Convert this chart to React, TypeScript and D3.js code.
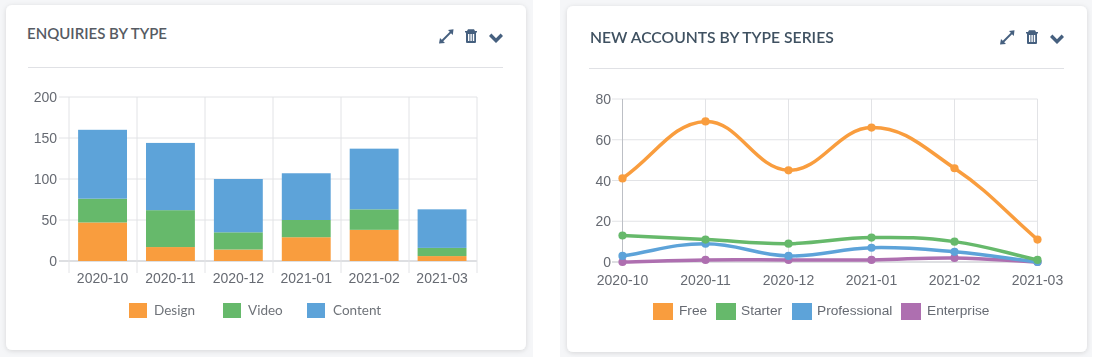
import React from "react";
import * as d3 from "d3";

const months = ["2020-10", "2020-11", "2020-12", "2021-01", "2021-02", "2021-03"];
const design = [47, 17, 14, 29, 38, 6];
const video = [29, 45, 21, 21, 25, 10];
const content = [84, 82, 65, 57, 74, 47];
const free = [41, 69, 45, 66, 46, 11];
const starter = [13, 11, 9, 12, 10, 1];
const professional = [3, 9, 3, 7, 5, 0];
const enterprise = [0, 1, 1, 1, 2, 0];
const barTicks = [0, 50, 100, 150, 200];
const lineTicks = [0, 20, 40, 60, 80];

const ORANGE = "#f99d3e";
const GREEN = "#66b96b";
const BLUE = "#5da3d9";
const PURPLE = "#ae6fb0";
const GRID = "#e2e3e6";
const AXIS = "#bcbfc5";
const TICK = "#666a72";
const ICON = "#46607f";
const SANS = "'Liberation Sans', Arial, sans-serif";

function chartJsLine(xs: number[], ys: number[]) {
  const t = 0.4;
  const p = d3.path();
  const n = xs.length;
  const ctrl = xs.map((x, i) => {
    const pi = Math.max(i - 1, 0);
    const ni = Math.min(i + 1, n - 1);
    const d01 = Math.hypot(x - xs[pi], ys[i] - ys[pi]);
    const d12 = Math.hypot(xs[ni] - x, ys[ni] - ys[i]);
    const s = d01 + d12 || 1;
    const fa = (t * d01) / s;
    const fb = (t * d12) / s;
    return {
      px: x - fa * (xs[ni] - xs[pi]),
      py: ys[i] - fa * (ys[ni] - ys[pi]),
      nx: x + fb * (xs[ni] - xs[pi]),
      ny: ys[i] + fb * (ys[ni] - ys[pi]),
    };
  });
  p.moveTo(xs[0], ys[0]);
  for (let i = 1; i < n; i++) {
    p.bezierCurveTo(ctrl[i - 1].nx, ctrl[i - 1].ny, ctrl[i].px, ctrl[i].py, xs[i], ys[i]);
  }
  return p.toString();
}

function Icons({ x, y }: { x: number; y: number }) {
  return (
    <g transform={`translate(${x},${y})`} fill={ICON} stroke="none">
      <path d="M0 13.5 L1 8 L2.8 9.8 L10.8 1.8 L9 0 L14.5 -0.8 L13.8 5 L12 3.2 L4.2 11.2 L6 13 Z" />
      <path
        fillRule="evenodd"
        transform="translate(0,-2)"
        d="M26 3 H38 V4.6 H37 V14 Q37 15 36 15 H28 Q27 15 27 14 V4.6 H26 Z M29 1.2 H35 L36 3 H28 Z M29 6 V13 H30.4 V6 Z M31.4 6 V13 H32.8 V6 Z M33.8 6 V13 H35.2 V6 Z"
      />
      <path d="M50 4 L52.4 1.6 L57 6.2 L61.6 1.6 L64 4 L57 11 Z" transform="translate(0,2)" />
    </g>
  );
}

function Card({ x, y, w, h }: { x: number; y: number; w: number; h: number }) {
  return <rect x={x} y={y} width={w} height={h} rx={6} fill="#fff" filter="url(#cardShadow)" />;
}

function BarChart() {
  const x = d3.scaleBand<string>().domain(months).range([68.6, 476]).paddingInner(0.28).paddingOuter(0.14);
  const step = 68;
  const y = d3.scaleLinear().domain([0, 200]).range([261, 97]);
  const stacked = d3.stack<number>().keys(["0", "1", "2"]).value((i, k) => [design, video, content][+k][i])(
    months.map((_, i) => i)
  );
  const colors = [ORANGE, GREEN, BLUE];
  return (
    <g>
      {barTicks.map((t) => (
        <g key={t}>
          <line x1={59} x2={477} y1={y(t)} y2={y(t)} stroke={t === 0 ? AXIS : GRID} />
          <text x={57} y={y(t) + 5} textAnchor="end" fontFamily={SANS} fontSize={14} fill={TICK}>{t}</text>
        </g>
      ))}
      {d3.range(0, months.length + 1).map((i) => (
        <line key={i} x1={69 + i * step} x2={69 + i * step} y1={97} y2={273} stroke={GRID} />
      ))}
      {stacked.map((s, k) =>
        s.map((d, i) => (
          <rect key={months[i]} x={x(months[i])} width={x.bandwidth()} y={y(d[1])} height={y(d[0]) - y(d[1])} fill={colors[k]} />
        ))
      )}
      {months.map((m) => (
        <text key={m} x={x(m)! + x.bandwidth() / 2} y={283} textAnchor="middle" fontFamily={SANS} fontSize={14} fill={TICK}>{m}</text>
      ))}
    </g>
  );
}

function LineChart() {
  const x = d3.scalePoint<string>().domain(months).range([622.5, 1037.5]);
  const y = d3.scaleLinear().domain([0, 80]).range([262, 99]);
  const series: [number[], string][] = [
    [enterprise, PURPLE],
    [professional, BLUE],
    [starter, GREEN],
    [free, ORANGE],
  ];
  const xs = months.map((m) => x(m)!);
  return (
    <g>
      {lineTicks.map((t) => (
        <g key={t}>
          <line x1={612} x2={1037.5} y1={y(t)} y2={y(t)} stroke={t === 0 ? AXIS : GRID} />
          <text x={611} y={y(t) + 5} textAnchor="end" fontFamily={SANS} fontSize={14} fill={TICK}>{t}</text>
        </g>
      ))}
      {months.map((m, i) => (
        <line key={m} x1={x(m)} x2={x(m)} y1={99} y2={262} stroke={i === 0 ? AXIS : GRID} />
      ))}
      {series.map(([vals, c]) => (
        <g key={c}>
          <path d={chartJsLine(xs, vals.map((v) => y(v)))} fill="none" stroke={c} strokeWidth={3.5} />
          {vals.map((v, i) => (
            <circle key={i} cx={xs[i]} cy={y(v)} r={4.1} fill={c} />
          ))}
        </g>
      ))}
      {months.map((m) => (
        <text key={m} x={x(m)} y={285} textAnchor="middle" fontFamily={SANS} fontSize={14} fill={TICK}>{m}</text>
      ))}
    </g>
  );
}

const leftLegend: [string, string, number, number][] = [
  ["Design", ORANGE, 129, 154],
  ["Video", GREEN, 223, 248],
  ["Content", BLUE, 307, 333],
];
const rightLegend: [string, string, number, number][] = [
  ["Free", ORANGE, 653, 679],
  ["Starter", GREEN, 716, 741],
  ["Professional", BLUE, 792, 817],
  ["Enterprise", PURPLE, 901, 927],
];

export default function App() {
  return (
    <svg width={1100} height={357} style={{ position: "fixed", left: 0, top: 0, display: "block" }}>
      <defs>
        <filter id="cardShadow" x="-5%" y="-5%" width="110%" height="110%">
          <feDropShadow dx={0} dy={1} stdDeviation={2.5} floodColor="#000" floodOpacity={0.13} />
        </filter>
      </defs>
      <rect x={0} y={0} width={533} height={357} fill="#f5f6f8" />
      <rect x={560} y={0} width={532} height={357} fill="#f5f6f8" />
      <Card x={6} y={5} w={520} h={345} />
      <Card x={567} y={6} w={520} h={346} />

      <text x={27} y={39} fontFamily="Lato" fontSize={15} fill="#565b63" style={{ fontWeight: 600 }}>ENQUIRIES BY TYPE</text>
      <line x1={28} x2={503} y1={67.5} y2={67.5} stroke="#e0e1e5" />
      <Icons x={439} y={30} />
      <BarChart />
      {leftLegend.map(([label, c, sx, tx]) => (
        <g key={label}>
          <rect x={sx} y={303} width={18} height={15} fill={c} />
          <text x={tx} y={315} fontFamily="Lato" fontSize={13.5} fill="#6f7379">{label}</text>
        </g>
      ))}

      <text x={590} y={43} fontFamily="Lato" fontSize={15.7} fill="#3f5161" style={{ fontWeight: 600 }}>NEW ACCOUNTS BY TYPE SERIES</text>
      <line x1={589} x2={1064} y1={68.5} y2={68.5} stroke="#e0e1e5" />
      <Icons x={1000} y={31} />
      <LineChart />
      {rightLegend.map(([label, c, sx, tx]) => (
        <g key={label}>
          <rect x={sx} y={303} width={20} height={17} fill={c} />
          <text x={tx} y={315} fontFamily={SANS} fontSize={13.7} fill={TICK}>{label}</text>
        </g>
      ))}
    </svg>
  );
}
